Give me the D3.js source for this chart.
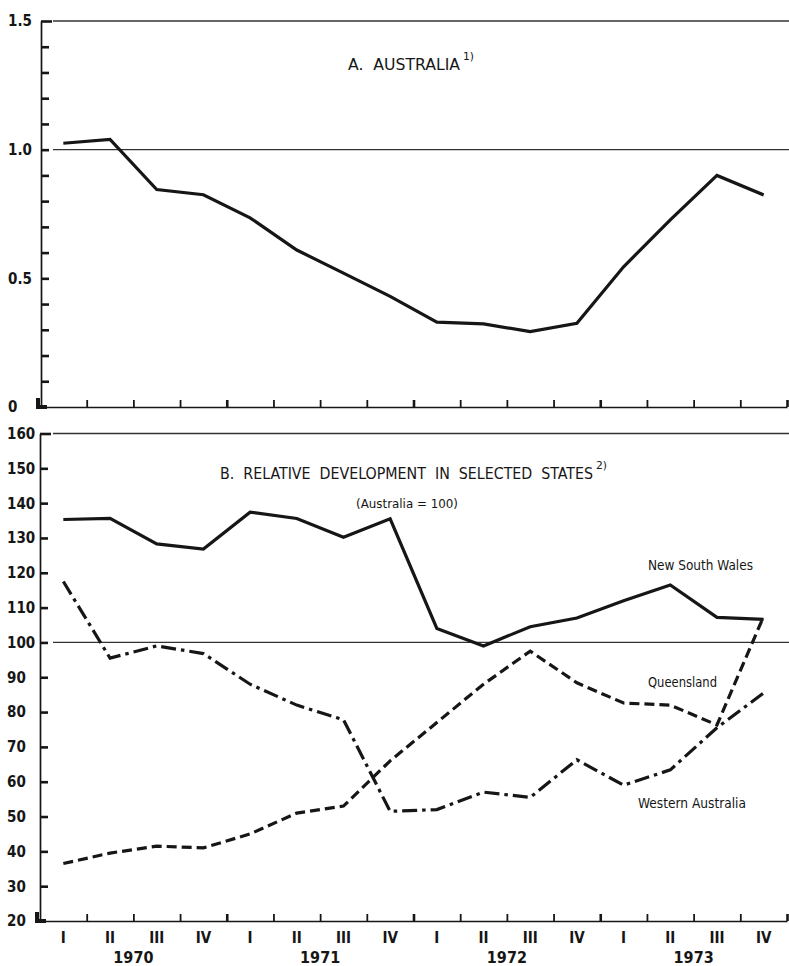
<!DOCTYPE html>
<html>
<head>
<meta charset="utf-8">
<script src="https://cdn.jsdelivr.net/npm/d3@7"></script>
<style>
  html, body { margin: 0; padding: 0; background: #fff; }
  svg { display: block; }
  text { font-family: 'Liberation Sans Narrow', 'DejaVu Sans Condensed', 'Arial Narrow', sans-serif; fill: #161616; white-space: pre; }
  .tick-label { font-weight: bold; font-size: 15px; }
  .cap { font-size: 14px; }
</style>
</head>
<body>
<svg id="chart" width="789" height="966"></svg>
<script>
// Quarterly series, 1970 Q1 to 1973 Q4
const quarters = ["I","II","III","IV","I","II","III","IV","I","II","III","IV","I","II","III","IV"];
const years = ["1970","1971","1972","1973"];

// Panel A: Australia (ratio)
const australia = [1.025, 1.04, 0.845, 0.825, 0.735, 0.61, 0.52, 0.43, 0.33, 0.323, 0.293, 0.325, 0.545, 0.727, 0.90, 0.824];

// Panel B: relative development by state (Australia = 100)
const newSouthWales   = [135.3, 135.6, 128.3, 126.8, 137.4, 135.6, 130.2, 135.5, 104, 99, 104.5, 107, 112, 116.5, 107.2, 106.6];
const queensland      = [36.5, 39.5, 41.5, 41, 45, 51, 53, 66, 77, 88, 97.5, 88.4, 82.6, 82, 76.3, 107.5];
const westernAustralia= [117.5, 95.5, 99, 96.8, 88, 82, 77.8, 51.5, 52, 57, 55.5, 66.3, 59, 63.4, 75.5, 85.5];

const ticksA = [0, 0.5, 1.0, 1.5];
const ticksALabels = ["0", "0.5", "1.0", "1.5"];
const ticksB = [20, 30, 40, 50, 60, 70, 80, 90, 100, 110, 120, 130, 140, 150, 160];

const svg = d3.select("#chart");
const ink = "#161616";

// quarter index scale: boundaries at integers, points at half-steps
const x = d3.scaleLinear().domain([0, 16]).range([40, 787]);
const xq = i => x(i + 0.5);

const yA = d3.scaleLinear().domain([0, 1.5]).range([407, 21]);
const yB = d3.scaleLinear().domain([20, 160]).range([921, 433.5]);

const axisX = 41;

function reference(yScale, v) {
  svg.append("line")
    .attr("x1", 53).attr("x2", 789)
    .attr("y1", yScale(v)).attr("y2", yScale(v))
    .attr("stroke", "#333").attr("stroke-width", 1.3);
}

reference(yA, 1.5); reference(yA, 1.0);
reference(yB, 160); reference(yB, 100);

function styleAxis(g, w) {
  g.select(".domain").attr("stroke", ink).attr("stroke-width", 1.7);
  g.selectAll(".tick line").attr("stroke", ink).attr("stroke-width", w);
  g.selectAll(".tick text").remove();
}

// left axes with inward ticks
const gyA = svg.append("g").attr("transform", `translate(${axisX},0)`)
  .call(d3.axisRight(yA).tickValues(d3.range(1, 16).map(k => k / 10)).tickSize(8).tickSizeOuter(0).tickFormat(""));
styleAxis(gyA, 2.6);
gyA.selectAll(".tick line").filter(d => Math.abs(d - 1.5) < 1e-6).attr("x2", 11);

const gyB = svg.append("g").attr("transform", `translate(${axisX - 1},0)`)
  .call(d3.axisRight(yB).tickValues(ticksB.slice(1)).tickSize(8).tickSizeOuter(0).tickFormat(""));
styleAxis(gyB, 2.6);
gyB.selectAll(".tick line").filter(d => d === 160).attr("x2", 11);

// bottom axes with upward ticks at quarter boundaries
const gxA = svg.append("g").attr("transform", `translate(0,${yA(0)})`)
  .call(d3.axisTop(x).tickValues(d3.range(1, 17)).tickSize(7).tickSizeOuter(0).tickFormat(""));
styleAxis(gxA, 1.8);
const gxB = svg.append("g").attr("transform", `translate(0,${yB(20)})`)
  .call(d3.axisTop(x).tickValues(d3.range(1, 17)).tickSize(7).tickSizeOuter(0).tickFormat(""));
styleAxis(gxB, 1.8);
[gxA, gxB].forEach(g => g.selectAll(".tick line").filter(d => d % 4 === 0).attr("stroke-width", 2.6));

// heavy corner marks at each origin
[[axisX, yA(0)], [axisX - 1, yB(20)]].forEach(([cx, cy]) => {
  svg.append("path")
    .attr("d", `M${cx - 3},${cy - 9} L${cx - 3},${cy} L${cx + 6},${cy}`)
    .attr("fill", "none").attr("stroke", ink).attr("stroke-width", 4);
});

// tick labels
ticksA.forEach((v, i) => {
  svg.append("text").attr("class", "tick-label")
    .attr("x", 8).attr("y", yA(v)).attr("dy", "0.36em").text(ticksALabels[i]);
});
ticksB.forEach(v => {
  svg.append("text").attr("class", "tick-label")
    .attr("x", 7).attr("y", yB(v)).attr("dy", "0.36em").text(v);
});

// quarter and year labels
quarters.forEach((q, i) => {
  svg.append("text").attr("class", "tick-label")
    .attr("x", xq(i)).attr("y", 943).attr("text-anchor", "middle").text(q);
});
years.forEach((yr, k) => {
  svg.append("text").attr("class", "tick-label")
    .attr("x", x(k * 4 + 2)).attr("y", 963).attr("text-anchor", "middle")
    .style("font-size", "16px").text(yr);
});

// series lines
const lineA = d3.line().x((d, i) => xq(i)).y(d => yA(d));
const lineB = d3.line().x((d, i) => xq(i)).y(d => yB(d));

function draw(gen, data, dash) {
  svg.append("path").datum(data)
    .attr("d", gen)
    .attr("fill", "none").attr("stroke", ink)
    .attr("stroke-width", 3.2)
    .attr("stroke-linejoin", "miter")
    .attr("stroke-dasharray", dash || null);
}
draw(lineA, australia);
draw(lineB, newSouthWales);
draw(lineB, queensland, "10,5");
draw(lineB, westernAustralia, "15,5,3.5,5");

// titles and series names
function label(t, x0, yb, w, size, weight) {
  svg.append("text").attr("class", "cap")
    .attr("x", x0).attr("y", yb)
    .attr("textLength", w).attr("lengthAdjust", "spacingAndGlyphs")
    .style("font-size", size + "px")
    .style("font-weight", weight || "normal")
    .text(t);
}
label("A.  AUSTRALIA", 348, 70, 112, 15);
label("1)", 463, 60, 11, 10);
label("B.  RELATIVE  DEVELOPMENT  IN  SELECTED  STATES", 220, 479, 373, 15);
label("2)", 596, 469, 11, 10);
label("(Australia = 100)", 356, 508, 102, 13);
label("New South Wales", 648, 570, 105, 14);
label("Queensland", 648, 687, 69, 14);
label("Western Australia", 638, 808, 108, 14);
</script>
</body>
</html>
